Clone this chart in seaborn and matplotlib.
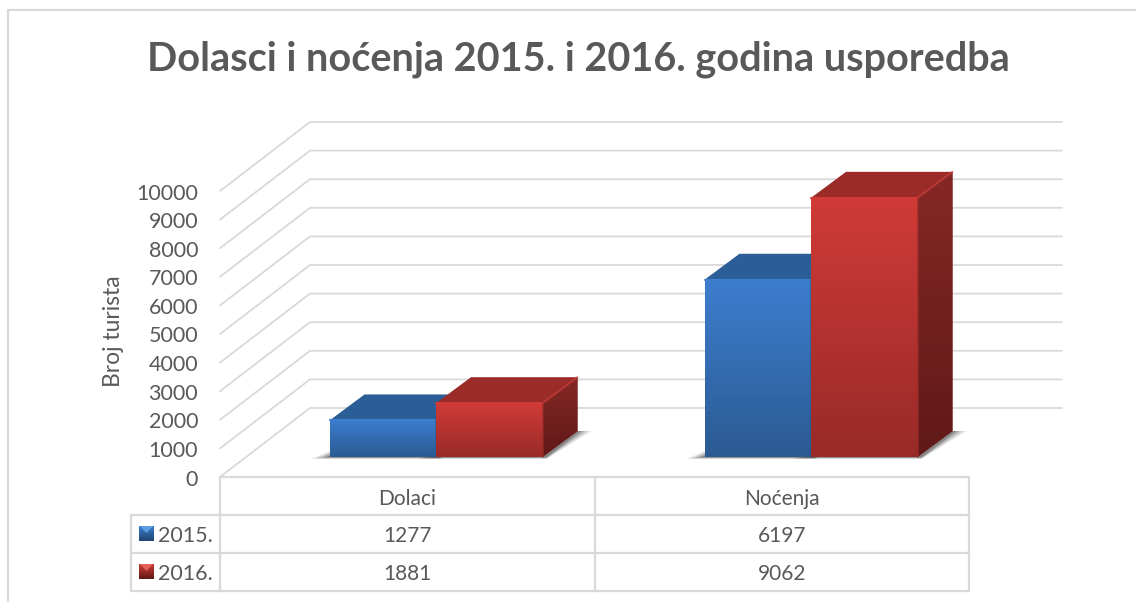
import numpy as np
import pandas as pd
import matplotlib
matplotlib.use('Agg')
import matplotlib.pyplot as plt
from matplotlib.colors import LinearSegmentedColormap
from matplotlib.patches import Polygon
import seaborn as sns

# Chart data
CATEGORIES = ['Dolaci', 'Noćenja']
YEARS = ['2015.', '2016.']
VALUES_2015 = [1277, 6197]
VALUES_2016 = [1881, 9062]
Y_TICKS = [0, 1000, 2000, 3000, 4000, 5000, 6000, 7000, 8000, 9000, 10000]

TITLE = 'Dolasci i noćenja 2015. i 2016. godina usporedba'
Y_LABEL = 'Broj turista'

TEXT = '#595959'
GRID = '#d9d9d9'

# top colour, bottom colour for each face of a column
FRONT = {'2015.': ('#3d7ecf', '#2b5a92'), '2016.': ('#d03b37', '#982a28')}
SIDE = {'2015.': ('#2a5a92', '#1f4470'), '2016.': ('#852825', '#601917')}
TOP = {'2015.': '#2b5e97', '2016.': '#9a2b28'}

W, H = 1136, 602
PX_PER_UNIT = 0.0286
BASE_Y = 457
DEPTH_X, DEPTH_Y = 35, 26
FLOOR_DX, FLOOR_DY = 90, 69


def gradient_fill(ax, artist, box, top, bottom, zorder):
    """Paint a vertical gradient over box, clipped to artist."""
    cmap = LinearSegmentedColormap.from_list('face', [top, bottom])
    img = ax.imshow(np.linspace(0, 1, 128).reshape(-1, 1), cmap=cmap, aspect='auto',
                    extent=box, origin='upper', zorder=zorder, interpolation='bilinear')
    img.set_clip_path(artist)


sns.set_theme(style='white')
plt.rcParams['font.family'] = ['Lato', 'DejaVu Sans']

fig = plt.figure(figsize=(W / 100, H / 100), dpi=100, facecolor='white')

# Pixel layer for the frame, floor, walls and the data table
bg = fig.add_axes([0, 0, 1, 1], zorder=0)
bg.set_xlim(0, W)
bg.set_ylim(H, 0)
bg.axis('off')

bg.plot([8, 8], [H, 10], color=GRID, lw=1.6)
bg.plot([8, W], [10, 10], color=GRID, lw=1.6)

bg.text(578.5, 59, TITLE, ha='center', va='center', fontsize=28.5, fontweight='bold', color=TEXT)
bg.text(114, 331, Y_LABEL, ha='center', va='center', rotation=90, fontsize=16.5, color=TEXT)

# Perspective gridlines, one for each tick
step = (477 - 191) / (len(Y_TICKS) - 1)
for i, tick in enumerate(Y_TICKS):
    y = 477 - i * step
    bg.plot([220, 220 + FLOOR_DX, 1062], [y, y - FLOOR_DY, y - FLOOR_DY], color=GRID, lw=1.3,
            solid_joinstyle='miter')
    bg.text(198, y + 2.5, str(tick), ha='right', va='center', fontsize=15.5, color=TEXT)

# Data table under the plot
col_x = [220, 595, 969]
row_y = [477, 515, 553, 591]
table_lw = 1.6
bg.plot([220, 969], [row_y[0], row_y[0]], color=GRID, lw=table_lw)
for y in row_y[1:]:
    bg.plot([131, 969], [y, y], color=GRID, lw=table_lw)
bg.plot([131, 131], [row_y[1], row_y[3]], color=GRID, lw=table_lw)
for x in col_x:
    bg.plot([x, x], [row_y[0], row_y[3]], color=GRID, lw=table_lw)

for c, cat in enumerate(CATEGORIES):
    cx = (col_x[c] + col_x[c + 1]) / 2
    bg.text(cx, 499, cat, ha='center', va='center', fontsize=15, color=TEXT)
    bg.text(cx, 536, str(VALUES_2015[c]), ha='center', va='center', fontsize=15, color=TEXT)
    bg.text(cx, 574, str(VALUES_2016[c]), ha='center', va='center', fontsize=15, color=TEXT)

# Legend keys with the small bevelled look
for r, year in enumerate(YEARS):
    top_y = row_y[r + 1] + 11
    x0, x1, y0, y1 = 139, 154, top_y, top_y + 15
    face = Polygon([(x0, y0), (x1, y0), (x1, y1), (x0, y1)], closed=True, fc=SIDE[year][1], ec='none')
    bg.add_patch(face)
    gradient_fill(bg, face, (x0, x1, y1, y0), FRONT[year][0], SIDE[year][1], 3)
    light = '#6aaef0' if r == 0 else '#f0706a'
    bg.add_patch(Polygon([(x0 + 1, y0), (x1 - 1, y0), ((x0 + x1) / 2, y0 + 7)], closed=True,
                         fc=light, ec='none', alpha=0.75, zorder=4))
    bg.set_xlim(0, W)
    bg.set_ylim(H, 0)
    bg.text(158, (row_y[r + 1] + row_y[r + 2]) / 2 + 1.5, year, ha='left', va='center', fontsize=15.5, color=TEXT)

# Columns: data axes covers the figure, with category 0 at x=436 and 1 at x=811
df = pd.DataFrame({
    'kategorija': CATEGORIES * 2,
    'godina': [YEARS[0]] * 2 + [YEARS[1]] * 2,
    'turisti': VALUES_2015 + VALUES_2016,
})

ax = fig.add_axes([0, 0, 1, 1], zorder=1)
ax.patch.set_alpha(0)
sns.barplot(data=df, x='kategorija', y='turisti', hue='godina', order=CATEGORIES, hue_order=YEARS,
            width=213 / 375, gap=0, dodge=True, legend=False, ax=ax, palette=[FRONT[y][0] for y in YEARS],
            saturation=1, linewidth=0, edgecolor='none')

x_per_px = 1 / 375
xlim = (-436 * x_per_px, (W - 436) * x_per_px)
ylim = ((BASE_Y - H) / PX_PER_UNIT, BASE_Y / PX_PER_UNIT)
depth_x = DEPTH_X * x_per_px
depth_y = DEPTH_Y / PX_PER_UNIT

for n, (container, year) in enumerate(zip(ax.containers, YEARS)):
    for bar in container:
        left, right = bar.get_x(), bar.get_x() + bar.get_width()
        h = bar.get_height()
        z = 2 + 10 * n + bar.get_x()
        bar.set_zorder(z)

        # soft shadow on the floor
        for grow, alpha in zip([1.0, 0.75, 0.5, 0.25], [0.12, 0.16, 0.22, 0.3]):
            shadow = [(left - 18 * grow * x_per_px, -70 * grow),
                      (right + 4 * x_per_px, -70 * grow),
                      (right + (DEPTH_X + 14 * grow) * x_per_px, depth_y),
                      (right + DEPTH_X * x_per_px, depth_y),
                      (left, 200 * grow)]
            ax.add_patch(Polygon(shadow, closed=True, fc='#333333', ec='none', alpha=alpha, zorder=1))

        side = Polygon([(right, 0), (right + depth_x, depth_y), (right + depth_x, h + depth_y), (right, h)],
                       closed=True, fc=SIDE[year][0], ec='none', zorder=z - 0.3)
        ax.add_patch(side)
        gradient_fill(ax, side, (right, right + depth_x, 0, h + depth_y), SIDE[year][0], SIDE[year][1], z - 0.2)

        roof = Polygon([(left, h), (right, h), (right + depth_x, h + depth_y), (left + depth_x, h + depth_y)],
                       closed=True, fc=TOP[year], ec='none', zorder=z - 0.1)
        ax.add_patch(roof)
        # lighter bevel along the edges of the roof and the front
        ax.plot([right, right + depth_x], [h, h + depth_y], color=FRONT[year][0], lw=1.6, alpha=0.55,
                zorder=z, solid_capstyle='round')

        gradient_fill(ax, bar, (left, right, 0, h), FRONT[year][0], FRONT[year][1], z + 0.1)
        ax.plot([left, right], [h, h], color=FRONT[year][0], lw=1.5, zorder=z + 0.2)
        ax.plot([right, right], [0, h], color=FRONT[year][1], lw=1.2, alpha=0.8, zorder=z + 0.2)

ax.set_xlim(xlim)
ax.set_ylim(ylim)
ax.axis('off')

plt.savefig('out.png', dpi=100)
